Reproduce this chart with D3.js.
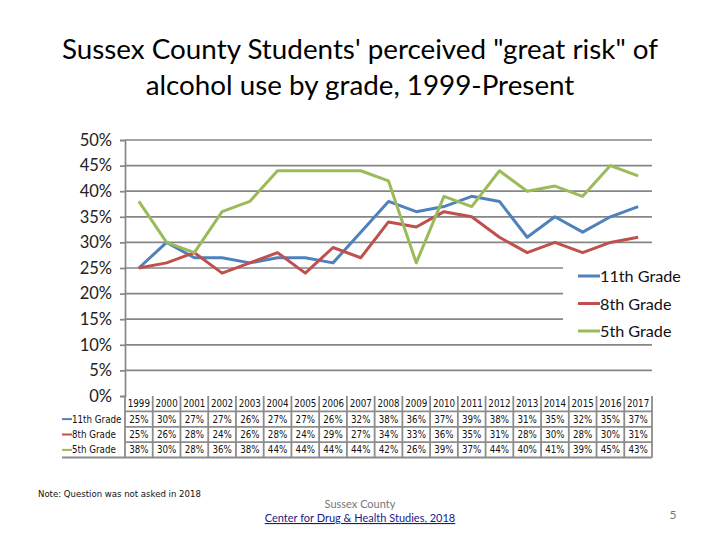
<!DOCTYPE html>
<html>
<head>
<meta charset="utf-8">
<script src="https://cdn.jsdelivr.net/npm/d3@7"></script>
<style>
  body { margin: 0; background: #fff; }
  svg { display: block; }
</style>
</head>
<body>
<div id="chart"></div>
<script>
// values
const years = ["1999","2000","2001","2002","2003","2004","2005","2006","2007","2008",
               "2009","2010","2011","2012","2013","2014","2015","2016","2017"];
const grade11 = [25,30,27,27,26,27,27,26,32,38,36,37,39,38,31,35,32,35,37];
const grade8  = [25,26,28,24,26,28,24,29,27,34,33,36,35,31,28,30,28,30,31];
const grade5  = [38,30,28,36,38,44,44,44,44,42,26,39,37,44,40,41,39,45,43];
const seriesNames = ["11th Grade","8th Grade","5th Grade"];
const yTicks = [0,5,10,15,20,25,30,35,40,45,50];

const width = 720, height = 540;
const colors = {"11th Grade":"#4F81BD","8th Grade":"#C0504D","5th Grade":"#9BBB59"};
const series = [
    {name: seriesNames[0], values: grade11},
    {name: seriesNames[1], values: grade8},
    {name: seriesNames[2], values: grade5}
];

let margin = {left:125, right:68, top:140, bottom:144};

let svg = d3.select("#chart").append("svg")
            .attr("width",width)
            .attr("height",height);

//#region title
svg.append("text")
    .attr("x",360).attr("y",59)
    .attr("text-anchor","middle")
    .attr("font-family","Lato, 'Open Sans', sans-serif")
    .attr("font-size",27.8)
    .attr("fill","#000")
    .text("Sussex County Students' perceived \"great risk\" of");
svg.append("text")
    .attr("x",360).attr("y",95)
    .attr("text-anchor","middle")
    .attr("font-family","Lato, 'Open Sans', sans-serif")
    .attr("font-size",27.8)
    .attr("fill","#000")
    .text("alcohol use by grade, 1999-Present");
//#endregion

//#region scales
let xScale = d3.scaleBand()
                .domain(years)
                .range([margin.left, width - margin.right]);
let yScale = d3.scaleLinear()
                .domain([0,50])
                .range([height - margin.bottom, margin.top]);
const bw = xScale.bandwidth();
//#endregion

//#region grid + y axis
svg.selectAll("line.grid")
    .data(yTicks.filter(d => d > 0))
    .join("line")
    .attr("class","grid")
    .attr("x1",margin.left)
    .attr("x2",width - margin.right)
    .attr("y1",d => yScale(d))
    .attr("y2",d => yScale(d))
    .attr("stroke","#868686")
    .attr("stroke-width",1.7);

let yAxis = d3.axisLeft(yScale)
                .tickValues(yTicks)
                .tickSize(5)
                .tickPadding(8)
                .tickFormat(d => d + "%");

let gy = svg.append("g")
    .attr("transform","translate(" + margin.left + ",0)")
    .call(yAxis);
gy.select(".domain").attr("stroke","#868686").attr("stroke-width",1.7);
gy.selectAll(".tick line").attr("stroke","#868686").attr("stroke-width",1.7);
gy.selectAll(".tick text")
    .attr("font-family","Lato, 'Open Sans', sans-serif")
    .attr("font-size",16.5)
    .attr("fill","#222");
//#endregion

//#region lines
let lineFn = d3.line()
    .x((d,i) => xScale(years[i]) + bw/2)
    .y(d => yScale(d));

svg.selectAll("path.series")
    .data(series)
    .join("path")
    .attr("class","series")
    .attr("d",d => lineFn(d.values))
    .attr("fill","none")
    .attr("stroke",d => colors[d.name])
    .attr("stroke-width",3)
    .attr("stroke-linejoin","round");
//#endregion

//#region legend
svg.append("rect")
    .attr("x",563).attr("y",262)
    .attr("width",140).attr("height",80)
    .attr("fill","#fff");

let leg = svg.selectAll("g.leg")
    .data(seriesNames)
    .join("g")
    .attr("class","leg")
    .attr("transform",(d,i) => "translate(578," + (276 + i*27.5) + ")");
leg.append("line")
    .attr("x1",0).attr("x2",22)
    .attr("stroke",d => colors[d])
    .attr("stroke-width",3);
leg.append("text")
    .attr("x",22).attr("y",6)
    .attr("font-family","Lato, 'Open Sans', sans-serif")
    .attr("font-size",16.2)
    .attr("fill","#111")
    .text(d => d);
//#endregion

//#region data table
const tTop = height - margin.bottom;
const rowH = 15.4;
const tableFont = "'DejaVu Sans Condensed', 'DejaVu Sans', sans-serif";
const tStroke = "#8c8c8c";

let table = svg.append("g");

// horizontal rules
table.selectAll("line.hr")
    .data([1,2,3])
    .join("line")
    .attr("class","hr")
    .attr("x1",margin.left)
    .attr("x2",width - margin.right)
    .attr("y1",d => tTop + d*rowH)
    .attr("y2",d => tTop + d*rowH)
    .attr("stroke",tStroke).attr("stroke-width",1.8);
table.append("line")
    .attr("x1",62).attr("x2",width - margin.right)
    .attr("y1",tTop + 4*rowH).attr("y2",tTop + 4*rowH)
    .attr("stroke",tStroke).attr("stroke-width",2);

// vertical rules
table.selectAll("line.vr")
    .data(years.concat(["end"]))
    .join("line")
    .attr("class","vr")
    .attr("x1",(d,i) => margin.left + i*bw)
    .attr("x2",(d,i) => margin.left + i*bw)
    .attr("y1",tTop)
    .attr("y2",tTop + 4*rowH)
    .attr("stroke",tStroke).attr("stroke-width",1.8);

// year header
table.selectAll("text.yr")
    .data(years)
    .join("text")
    .attr("class","yr")
    .attr("x",d => xScale(d) + bw/2)
    .attr("y",tTop + rowH/2 + 3.5)
    .attr("text-anchor","middle")
    .attr("font-family",tableFont)
    .attr("font-size",9.7)
    .attr("fill","#111")
    .text(d => d);

series.forEach((s,r) => {
    let yMid = tTop + (r+1.5)*rowH;
    table.append("line")
        .attr("x1",62).attr("x2",72)
        .attr("y1",yMid).attr("y2",yMid)
        .attr("stroke",colors[s.name]).attr("stroke-width",2);
    table.append("text")
        .attr("x",72).attr("y",yMid + 3.5)
        .attr("font-family",tableFont)
        .attr("font-size",9.7)
        .attr("fill","#111")
        .text(s.name);
    table.selectAll("text.v" + r)
        .data(s.values)
        .join("text")
        .attr("class","v" + r)
        .attr("x",(d,i) => xScale(years[i]) + bw/2)
        .attr("y",yMid + 3.5)
        .attr("text-anchor","middle")
        .attr("font-family",tableFont)
        .attr("font-size",9.7)
        .attr("fill","#111")
        .text(d => d + "%");
});
//#endregion

//#region footer
svg.append("text")
    .attr("x",38).attr("y",497)
    .attr("font-family",tableFont)
    .attr("font-size",9.5)
    .attr("fill","#111")
    .text("Note: Question was not asked in 2018");
svg.append("text")
    .attr("x",360).attr("y",508)
    .attr("text-anchor","middle")
    .attr("font-family","Lato, 'Open Sans', sans-serif")
    .attr("font-size",11)
    .attr("fill","#777")
    .text("Sussex County");
svg.append("text")
    .attr("x",360).attr("y",522)
    .attr("text-anchor","middle")
    .attr("font-family","Lato, 'Open Sans', sans-serif")
    .attr("font-size",11)
    .attr("fill","#1a1a8a")
    .attr("text-decoration","underline")
    .text("Center for Drug & Health Studies, 2018");
svg.append("text")
    .attr("x",673).attr("y",519)
    .attr("text-anchor","middle")
    .attr("font-family","Lato, 'Open Sans', sans-serif")
    .attr("font-size",12)
    .attr("fill","#777")
    .text("5");
//#endregion
</script>
</body>
</html>
